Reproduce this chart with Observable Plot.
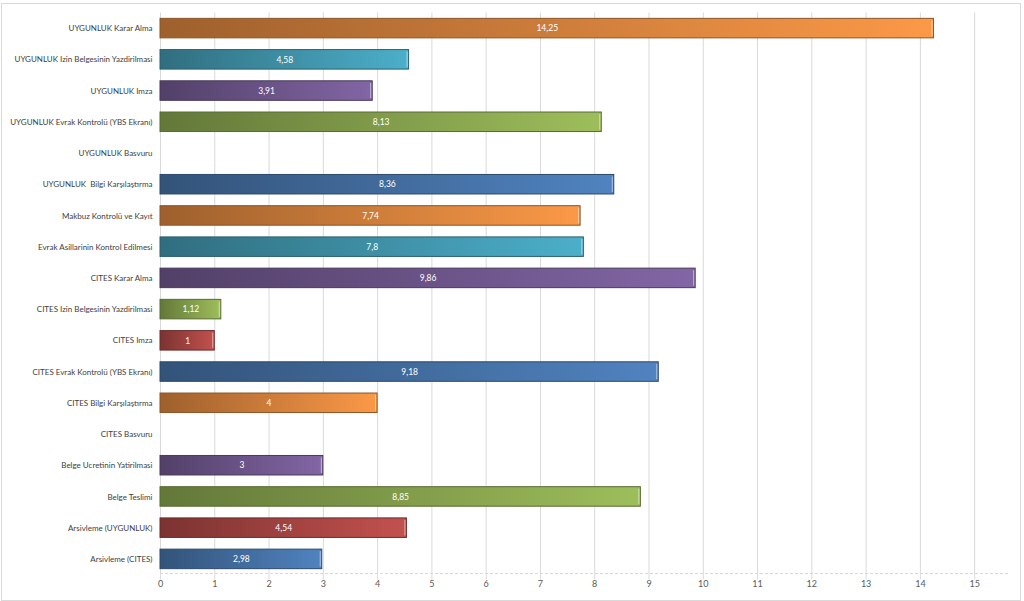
<!DOCTYPE html>
<html>
<head>
<meta charset="utf-8">
<script src="https://cdn.jsdelivr.net/npm/d3@7"></script>
<script src="https://cdn.jsdelivr.net/npm/@observablehq/plot@0.6"></script>
<style>
  html, body { margin: 0; padding: 0; background: #fff; }
  #wrap { position: relative; width: 1024px; height: 601px; overflow: hidden; }
  #frame { position: absolute; left: 1px; top: 3px; width: 1018px; height: 596px; border: 1px solid #d9d9d9; pointer-events: none; }
</style>
</head>
<body>
<div id="wrap"><div id="frame"></div></div>
<script>
const categories = [
  "UYGUNLUK Karar Alma",
  "UYGUNLUK Izin Belgesinin Yazdirilmasi",
  "UYGUNLUK Imza",
  "UYGUNLUK Evrak Kontrolü (YBS Ekranı)",
  "UYGUNLUK Basvuru",
  "UYGUNLUK  Bilgi Karşılaştırma",
  "Makbuz Kontrolü ve Kayıt",
  "Evrak Asillarinin Kontrol Edilmesi",
  "CITES Karar Alma",
  "CITES Izin Belgesinin Yazdirilmasi",
  "CITES Imza",
  "CITES Evrak Kontrolü (YBS Ekranı)",
  "CITES Bilgi Karşılaştırma",
  "CITES Basvuru",
  "Belge Ucretinin Yatirilmasi",
  "Belge Teslimi",
  "Arsivleme (UYGUNLUK)",
  "Arsivleme (CITES)"
];
const values = [14.25, 4.58, 3.91, 8.13, null, 8.36, 7.74, 7.8, 9.86, 1.12, 1, 9.18, 4, null, 3, 8.85, 4.54, 2.98];
const xTicks = [0, 1, 2, 3, 4, 5, 6, 7, 8, 9, 10, 11, 12, 13, 14, 15];
const palette = ["#4F81BD", "#C0504D", "#9BBB59", "#8064A2", "#4BACC6", "#F79646"];

const n = categories.length;
const data = categories.map((c, i) => ({c, v: values[i], k: (n - 1 - i) % palette.length}));
const shown = data.filter(d => d.v != null);
const fmt = v => String(v).replace(".", ",");

const barMarks = palette.map((col, k) =>
  Plot.barX(shown.filter(d => d.k === k), {
    x: "v", y: "c",
    fill: `url(#grad${k})`,
    stroke: d3.color(col).darker(1.6).formatHex(),
    strokeWidth: 1
  })
);

const chart = Plot.plot({
  width: 1024,
  height: 601,
  marginLeft: 160,
  marginRight: 14,
  marginTop: 12.5,
  marginBottom: 26.5,
  style: {fontFamily: "Lato, 'Open Sans', sans-serif", fontSize: "8px", color: "#595959", background: "transparent"},
  x: {domain: [0, 15.66], label: null},
  y: {domain: categories, paddingInner: 0.375, paddingOuter: 0.1875, round: false, label: null},
  marks: [
    Plot.gridX(xTicks, {stroke: "#d9d9d9", strokeOpacity: 1}),
    Plot.axisX({ticks: xTicks, tickSize: 5, tickPadding: 1, stroke: "#d9d9d9", fill: "#595959", tickFormat: d => String(d), label: null, fontSize: 9}),
    Plot.axisY({tickSize: 0, tickPadding: 8, fill: "#404040", label: null, fontSize: 8}),
    ...barMarks,
    Plot.tickX(shown, {x: "v", y: "c", dx: -2, stroke: "white", strokeOpacity: 0.55, insetTop: 2, insetBottom: 2}),
    Plot.text(shown, {x: d => d.v / 2, y: "c", text: d => fmt(d.v), fill: "white", fontSize: 8.5, className: "vlabel"})
  ]
});

document.getElementById("wrap").prepend(chart);

const svg = d3.select(chart);
const defs = svg.insert("defs", ":first-child");
palette.forEach((col, k) => {
  const g = defs.append("linearGradient").attr("id", `grad${k}`).attr("x1", "0").attr("x2", "1").attr("y1", "0").attr("y2", "0");
  g.append("stop").attr("offset", "0%").attr("stop-color", d3.color(col).darker(1.25).formatHex());
  g.append("stop").attr("offset", "100%").attr("stop-color", d3.color(col).brighter(0.05).formatHex());
});

// bottom axis line (dashed) from scale ranges
const xr = chart.scale("x").range;
const yr = chart.scale("y").range;
svg.append("line")
  .attr("x1", xr[0]).attr("x2", xr[1])
  .attr("y1", yr[1] - 1).attr("y2", yr[1] - 1)
  .attr("stroke", "#d9d9d9").attr("stroke-dasharray", "3,2");

// label boxes behind value texts
svg.selectAll("g.vlabel text").each(function () {
  const b = this.getBBox();
  d3.select(this.parentNode).insert("rect", () => this)
    .attr("x", b.x - 2).attr("y", b.y)
    .attr("width", b.width + 4).attr("height", b.height)
    .attr("fill", "rgba(255,255,255,0.3)");
});
</script>
</body>
</html>
